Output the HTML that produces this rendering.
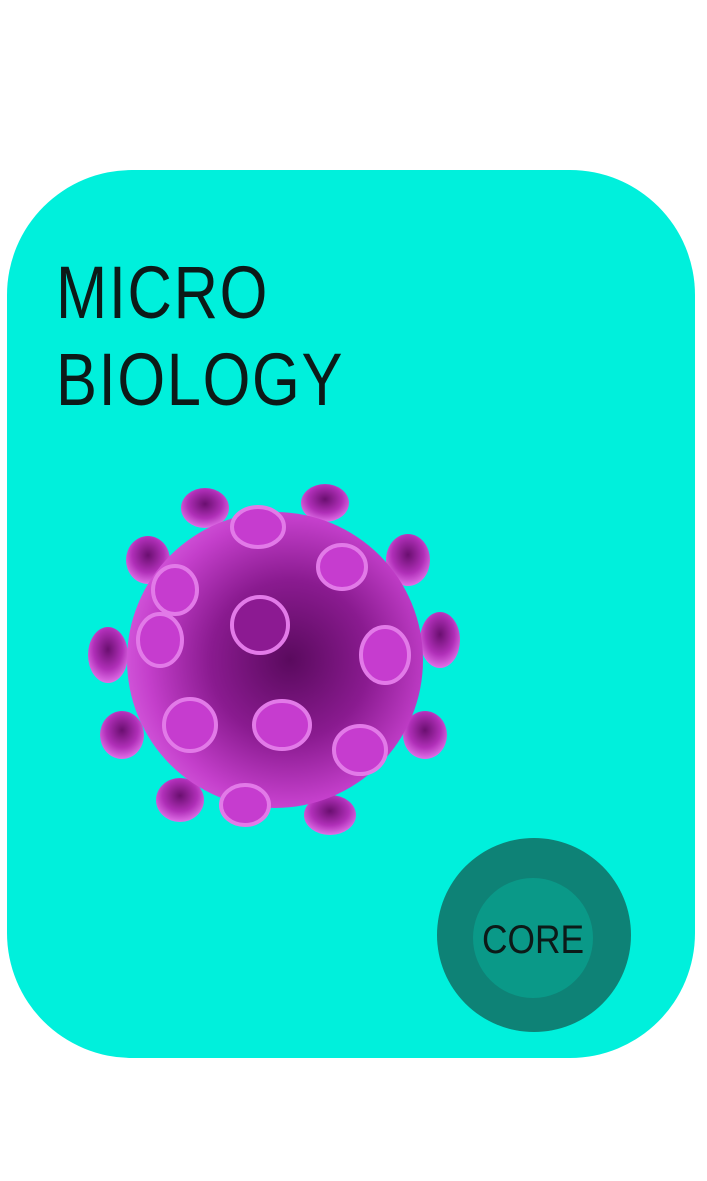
<!DOCTYPE html>
<html>
<head>
<meta charset="utf-8">
<style>
  html,body{margin:0;padding:0;background:#fff;}
  body{width:707px;height:1181px;position:relative;overflow:hidden;font-family:"Liberation Sans","DejaVu Sans",sans-serif;}
  .card{position:absolute;left:7px;top:170px;width:688px;height:888px;background:#00F0DC;border-radius:125px;}
  .title{position:absolute;left:56px;color:#0c1a18;font-size:74px;letter-spacing:2px;line-height:1;margin:0;font-weight:normal;transform:scaleX(0.83);transform-origin:left;}
  svg{position:absolute;left:0;top:0;}
</style>
</head>
<body>
<div class="card"></div>
<div class="title" style="top:256px">MICRO</div>
<div class="title" style="top:343px">BIOLOGY</div>
<svg width="707" height="1181">
  <defs>
    <radialGradient id="body" cx="0.55" cy="0.5" r="0.6">
      <stop offset="0" stop-color="#5a0a5e"/>
      <stop offset="0.45" stop-color="#8a1b90"/>
      <stop offset="0.8" stop-color="#c43fcb"/>
      <stop offset="1" stop-color="#d860e0"/>
    </radialGradient>
    <radialGradient id="spike" cx="0.5" cy="0.4" r="0.6">
      <stop offset="0" stop-color="#6a0f70"/>
      <stop offset="0.6" stop-color="#b02fb8"/>
      <stop offset="1" stop-color="#e070e8"/>
    </radialGradient>
  </defs>
  <g>
    <ellipse cx="205" cy="508" rx="24" ry="20" fill="url(#spike)"/>
    <ellipse cx="325" cy="503" rx="24" ry="19" fill="url(#spike)"/>
    <ellipse cx="148" cy="560" rx="22" ry="24" fill="url(#spike)"/>
    <ellipse cx="408" cy="560" rx="22" ry="26" fill="url(#spike)"/>
    <ellipse cx="108" cy="655" rx="20" ry="28" fill="url(#spike)"/>
    <ellipse cx="440" cy="640" rx="20" ry="28" fill="url(#spike)"/>
    <ellipse cx="122" cy="735" rx="22" ry="24" fill="url(#spike)"/>
    <ellipse cx="425" cy="735" rx="22" ry="24" fill="url(#spike)"/>
    <ellipse cx="180" cy="800" rx="24" ry="22" fill="url(#spike)"/>
    <ellipse cx="330" cy="815" rx="26" ry="20" fill="url(#spike)"/>
  </g>
  <circle cx="275" cy="660" r="148" fill="url(#body)"/>
  <g fill="#c63ccf" stroke="#e27ae8" stroke-width="4">
    <ellipse cx="258" cy="527" rx="26" ry="20"/>
    <ellipse cx="342" cy="567" rx="24" ry="22"/>
    <ellipse cx="175" cy="590" rx="22" ry="24"/>
    <ellipse cx="260" cy="625" rx="28" ry="28" fill="#8c1a92"/>
    <ellipse cx="385" cy="655" rx="24" ry="28"/>
    <ellipse cx="160" cy="640" rx="22" ry="26"/>
    <ellipse cx="190" cy="725" rx="26" ry="26"/>
    <ellipse cx="282" cy="725" rx="28" ry="24"/>
    <ellipse cx="360" cy="750" rx="26" ry="24"/>
    <ellipse cx="245" cy="805" rx="24" ry="20"/>
  </g>
  <g>
    <circle cx="534" cy="935" r="97" fill="#0E8276"/>
    <circle cx="533" cy="938" r="60" fill="#0A9988"/>
    <text x="533" y="953" text-anchor="middle" font-family="Liberation Sans, sans-serif" font-size="40" textLength="102" lengthAdjust="spacingAndGlyphs" fill="#0c1a18">CORE</text>
  </g>
</svg>
</body>
</html>
